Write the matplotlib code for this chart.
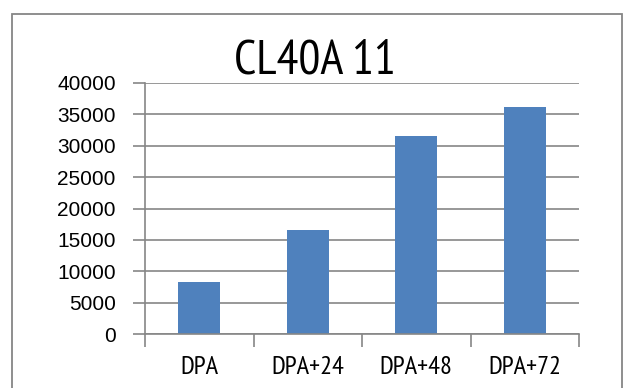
import matplotlib
matplotlib.use("Agg")
import matplotlib.pyplot as plt
from matplotlib import font_manager as fm
from matplotlib.patches import Rectangle

categories = ["DPA", "DPA+24", "DPA+48", "DPA+72"]
values = [8300, 16600, 31600, 36200]
yticks = [0, 5000, 10000, 15000, 20000, 25000, 30000, 35000, 40000]
title = "CL40A 11"

installed = {f.name for f in fm.fontManager.ttflist}
narrow_prefs = ["Liberation Sans Narrow", "Arial Narrow", "PT Sans Narrow",
                "Roboto Condensed", "Archivo Narrow", "Fira Sans Condensed"]
narrow = next((n for n in narrow_prefs if n in installed), "DejaVu Sans")
plt.rcParams['font.family'] = ['Liberation Sans', 'DejaVu Sans']

W, H = 625, 388
fig = plt.figure(figsize=(W / 100, H / 100), dpi=100)
fig.patch.set_facecolor("white")

grid_c = "#868686"

# chart frame
fig.patches.append(Rectangle((12 / W, -0.2), (622 - 12) / W, 1.2 - 14 / H,
                             transform=fig.transFigure, fill=False,
                             edgecolor=grid_c, linewidth=1.3))

ax = fig.add_axes([145 / W, 1 - 334 / H, (579 - 145) / W, (334 - 83) / H])
x = list(range(len(categories)))
ax.bar(x, values, width=0.39, color="#4F81BD", zorder=2)

ax.set_xlim(-0.5, len(categories) - 0.5)
ax.set_ylim(0, 40000)
ax.set_yticks(yticks)
ax.set_yticklabels([str(v) for v in yticks], fontsize=15)
ax.yaxis.grid(True, color=grid_c, linewidth=1.2)
ax.set_axisbelow(True)

ax.set_xticks(x)
ax.set_xticklabels(categories, fontsize=19, family=[narrow, 'DejaVu Sans'])
ax.set_xticks([i - 0.5 for i in range(len(categories) + 1)], minor=True)
ax.tick_params(axis="x", which="major", length=0, pad=16)
ax.tick_params(axis="x", which="minor", length=9, color=grid_c, width=1.2, direction="out")
ax.tick_params(axis="y", length=9, color=grid_c, width=1.2, pad=12)

for s in ["top", "right"]:
    ax.spines[s].set_visible(False)
for s in ["left", "bottom"]:
    ax.spines[s].set_color(grid_c)
    ax.spines[s].set_linewidth(1.2)

fig.text(315 / W, 1 - 61 / H, title, fontsize=35, ha="center", va="center",
         family=[narrow, 'DejaVu Sans'])

fig.savefig("out.png", dpi=100, facecolor="white")
